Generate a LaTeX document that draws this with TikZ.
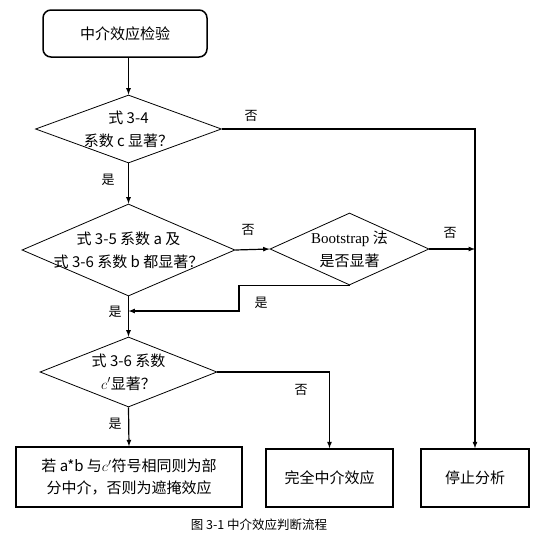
\documentclass[tikz,border=0pt]{standalone}
\usepackage{fontspec}
\setmainfont{Noto Sans CJK SC}
\newfontfamily\lat{Liberation Serif}
\usetikzlibrary{arrows,shapes.geometric}
\tikzset{dm/.append style={draw,diamond,inner sep=0pt,line width=0.8pt}}
\tikzset{bx/.append style={draw,rectangle,inner sep=0pt,line width=1.5pt,align=center,font=\fontsize{15}{22}\selectfont}}
\tikzset{tx/.append style={align=center,inner sep=0pt,font=\fontsize{15}{23}\selectfont}}
\tikzset{yn/.append style={inner sep=0pt,font=\fontsize{13}{13}\selectfont}}
\tikzset{ar/.append style={line width=1.2pt,-latex}}

\begin{document}
\begin{tikzpicture}[x=1pt,y=-1pt]
                \useasboundingbox (0,0) rectangle (533,544);
                % boxes
                \node[bx,rounded corners=8pt,minimum width=164pt,minimum height=47pt] (s) at (125,33.5) {中介效应检验};
                \node[bx,minimum width=226pt,minimum height=60pt] (b1) at (129,477) {若 a*b 与$c'$符号相同则为部\\分中介，否则为遮掩效应};
                \node[bx,minimum width=127pt,minimum height=58pt] (b2) at (329.5,478) {完全中介效应};
                \node[bx,minimum width=108pt,minimum height=58pt] (b3) at (475,478) {停止分析};
                % diamonds
                \node[dm,minimum width=186pt,minimum height=68pt] (d1) at (128.5,129) {};
                \node[dm,minimum width=213pt,minimum height=92pt] (d2) at (128.5,250) {};
                \node[dm,minimum width=159pt,minimum height=72pt] (d3) at (349.5,249) {};
                \node[dm,minimum width=177pt,minimum height=70pt] (d4) at (128.5,372) {};
                \node[tx] (t1) at (d1) {式 3-4\\系数 c 显著？};
                \node[tx] (t2) at (d2) {式 3-5 系数 a 及\\式 3-6 系数 b 都显著？};
                \node[tx] (t3) at (d3) {{\lat Bootstrap} 法\\是否显著};
                \node[tx] (t4) at (d4) {式 3-6 系数\\$c'$显著？};
                % connectors
                \draw[ar] (d1.north |- s.south) -- (d1.north);
                \draw[ar] (d1.south) -- (d2.north);
                \draw[ar] (d2.east) -- (d3.west);
                \draw[ar] (d1.east) -| (b3.north);
                \draw[ar] (d3.east) -- (d3.east -| b3.north);
                \coordinate (m) at (239,311);
                \draw[ar] (d3.south) -| (m) -- (d2.south |- m);
                \draw[ar] (d2.south) -- (d4.north);
                \draw[ar] (d4.south) -- (b1.north);
                \draw[ar] (d4.east) -| (b2.north);
                % yes / no
                \node[yn] (n1) at (251,116) {否};
                \node[yn] (y1) at (108,180) {是};
                \node[yn] (n2) at (248,230) {否};
                \node[yn] (n3) at (450,233) {否};
                \node[yn] (y2) at (261,303) {是};
                \node[yn] (y3) at (115,312) {是};
                \node[yn] (n4) at (301,390) {否};
                \node[yn] (y4) at (115,424) {是};
                \node[inner sep=0pt,font=\fontsize{12.5}{12.5}\selectfont] (cap) at (259,525) {图 3-1 中介效应判断流程};
            \end{tikzpicture}
\end{document}
